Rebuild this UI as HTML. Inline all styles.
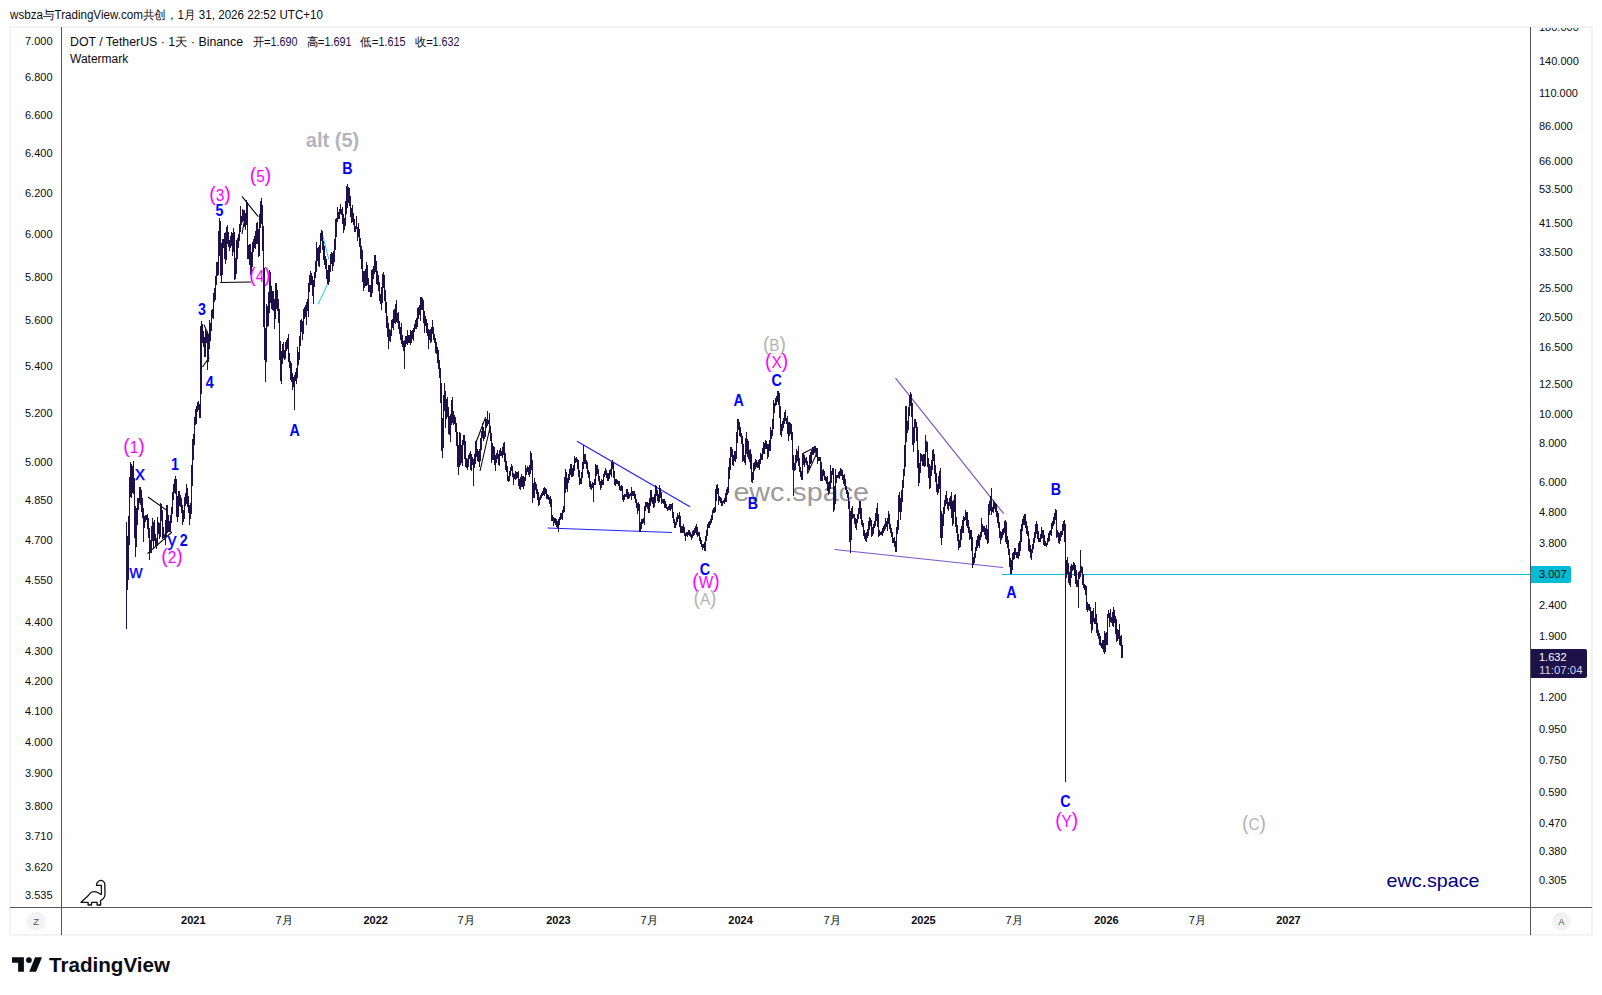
<!DOCTYPE html>
<html lang="zh"><head><meta charset="utf-8"><title>DOT / TetherUS</title>
<style>
html,body{margin:0;padding:0;background:#fff;}
body{width:1602px;height:995px;position:relative;overflow:hidden;font-family:"Liberation Sans", sans-serif;}
#frame{position:absolute;left:9px;top:26px;width:1580px;height:906px;border:2px solid #f3f3f3;border-radius:2px;box-sizing:content-box;background:#fefefe;}
svg{position:absolute;left:0;top:0;font-family:"Liberation Sans", sans-serif;}
</style></head><body>
<div id="frame"></div>
<svg width="1602" height="995" viewBox="0 0 1602 995">
<text x="10" y="19.3" font-size="12" fill="#0b0b12" text-anchor="start" font-weight="normal" textLength="313" lengthAdjust="spacingAndGlyphs">wsbza与TradingView.com共创，1月 31, 2026 22:52 UTC+10</text>
<defs><clipPath id="fc"><rect x="11" y="28" width="1580" height="906"/></clipPath></defs>
<g clip-path="url(#fc)">
<text x="52.5" y="44.9" font-size="11" fill="#0b0b12" text-anchor="end" font-weight="normal" >7.000</text>
<text x="52.5" y="80.9" font-size="11" fill="#0b0b12" text-anchor="end" font-weight="normal" >6.800</text>
<text x="52.5" y="118.9" font-size="11" fill="#0b0b12" text-anchor="end" font-weight="normal" >6.600</text>
<text x="52.5" y="156.9" font-size="11" fill="#0b0b12" text-anchor="end" font-weight="normal" >6.400</text>
<text x="52.5" y="196.9" font-size="11" fill="#0b0b12" text-anchor="end" font-weight="normal" >6.200</text>
<text x="52.5" y="237.9" font-size="11" fill="#0b0b12" text-anchor="end" font-weight="normal" >6.000</text>
<text x="52.5" y="280.9" font-size="11" fill="#0b0b12" text-anchor="end" font-weight="normal" >5.800</text>
<text x="52.5" y="323.9" font-size="11" fill="#0b0b12" text-anchor="end" font-weight="normal" >5.600</text>
<text x="52.5" y="369.9" font-size="11" fill="#0b0b12" text-anchor="end" font-weight="normal" >5.400</text>
<text x="52.5" y="416.9" font-size="11" fill="#0b0b12" text-anchor="end" font-weight="normal" >5.200</text>
<text x="52.5" y="465.9" font-size="11" fill="#0b0b12" text-anchor="end" font-weight="normal" >5.000</text>
<text x="52.5" y="503.9" font-size="11" fill="#0b0b12" text-anchor="end" font-weight="normal" >4.850</text>
<text x="52.5" y="543.9" font-size="11" fill="#0b0b12" text-anchor="end" font-weight="normal" >4.700</text>
<text x="52.5" y="583.9" font-size="11" fill="#0b0b12" text-anchor="end" font-weight="normal" >4.550</text>
<text x="52.5" y="625.9" font-size="11" fill="#0b0b12" text-anchor="end" font-weight="normal" >4.400</text>
<text x="52.5" y="654.9" font-size="11" fill="#0b0b12" text-anchor="end" font-weight="normal" >4.300</text>
<text x="52.5" y="684.9" font-size="11" fill="#0b0b12" text-anchor="end" font-weight="normal" >4.200</text>
<text x="52.5" y="714.9" font-size="11" fill="#0b0b12" text-anchor="end" font-weight="normal" >4.100</text>
<text x="52.5" y="745.9" font-size="11" fill="#0b0b12" text-anchor="end" font-weight="normal" >4.000</text>
<text x="52.5" y="776.9" font-size="11" fill="#0b0b12" text-anchor="end" font-weight="normal" >3.900</text>
<text x="52.5" y="809.9" font-size="11" fill="#0b0b12" text-anchor="end" font-weight="normal" >3.800</text>
<text x="52.5" y="839.9" font-size="11" fill="#0b0b12" text-anchor="end" font-weight="normal" >3.710</text>
<text x="52.5" y="870.9" font-size="11" fill="#0b0b12" text-anchor="end" font-weight="normal" >3.620</text>
<text x="52.5" y="899.2" font-size="11" fill="#0b0b12" text-anchor="end" font-weight="normal" >3.535</text>
<text x="1539" y="30.9" font-size="11" fill="#0b0b12" text-anchor="start" font-weight="normal" >180.000</text>
<text x="1539" y="64.9" font-size="11" fill="#0b0b12" text-anchor="start" font-weight="normal" >140.000</text>
<text x="1539" y="96.9" font-size="11" fill="#0b0b12" text-anchor="start" font-weight="normal" >110.000</text>
<text x="1539" y="129.9" font-size="11" fill="#0b0b12" text-anchor="start" font-weight="normal" >86.000</text>
<text x="1539" y="164.9" font-size="11" fill="#0b0b12" text-anchor="start" font-weight="normal" >66.000</text>
<text x="1539" y="192.9" font-size="11" fill="#0b0b12" text-anchor="start" font-weight="normal" >53.500</text>
<text x="1539" y="226.9" font-size="11" fill="#0b0b12" text-anchor="start" font-weight="normal" >41.500</text>
<text x="1539" y="255.9" font-size="11" fill="#0b0b12" text-anchor="start" font-weight="normal" >33.500</text>
<text x="1539" y="291.9" font-size="11" fill="#0b0b12" text-anchor="start" font-weight="normal" >25.500</text>
<text x="1539" y="320.9" font-size="11" fill="#0b0b12" text-anchor="start" font-weight="normal" >20.500</text>
<text x="1539" y="350.9" font-size="11" fill="#0b0b12" text-anchor="start" font-weight="normal" >16.500</text>
<text x="1539" y="387.9" font-size="11" fill="#0b0b12" text-anchor="start" font-weight="normal" >12.500</text>
<text x="1539" y="417.9" font-size="11" fill="#0b0b12" text-anchor="start" font-weight="normal" >10.000</text>
<text x="1539" y="446.9" font-size="11" fill="#0b0b12" text-anchor="start" font-weight="normal" >8.000</text>
<text x="1539" y="485.9" font-size="11" fill="#0b0b12" text-anchor="start" font-weight="normal" >6.000</text>
<text x="1539" y="515.9" font-size="11" fill="#0b0b12" text-anchor="start" font-weight="normal" >4.800</text>
<text x="1539" y="546.9" font-size="11" fill="#0b0b12" text-anchor="start" font-weight="normal" >3.800</text>
<text x="1539" y="608.9" font-size="11" fill="#0b0b12" text-anchor="start" font-weight="normal" >2.400</text>
<text x="1539" y="639.9" font-size="11" fill="#0b0b12" text-anchor="start" font-weight="normal" >1.900</text>
<text x="1539" y="700.9" font-size="11" fill="#0b0b12" text-anchor="start" font-weight="normal" >1.200</text>
<text x="1539" y="732.9" font-size="11" fill="#0b0b12" text-anchor="start" font-weight="normal" >0.950</text>
<text x="1539" y="763.9" font-size="11" fill="#0b0b12" text-anchor="start" font-weight="normal" >0.750</text>
<text x="1539" y="795.9" font-size="11" fill="#0b0b12" text-anchor="start" font-weight="normal" >0.590</text>
<text x="1539" y="826.9" font-size="11" fill="#0b0b12" text-anchor="start" font-weight="normal" >0.470</text>
<text x="1539" y="854.9" font-size="11" fill="#0b0b12" text-anchor="start" font-weight="normal" >0.380</text>
<text x="1539" y="883.9" font-size="11" fill="#0b0b12" text-anchor="start" font-weight="normal" >0.305</text>
</g>
<g stroke="#555" stroke-width="1" shape-rendering="crispEdges">
<line x1="61.5" y1="27" x2="61.5" y2="934.5"/>
<line x1="1530.5" y1="27" x2="1530.5" y2="934.5"/>
<line x1="10" y1="907.5" x2="1592" y2="907.5"/>
</g>
<text x="193.3" y="923.9" font-size="11" fill="#0b0b12" text-anchor="middle" font-weight="bold" >2021</text>
<text x="284" y="923.9" font-size="11" fill="#0b0b12" text-anchor="middle" font-weight="normal" >7月</text>
<text x="375.7" y="923.9" font-size="11" fill="#0b0b12" text-anchor="middle" font-weight="bold" >2022</text>
<text x="466.1" y="923.9" font-size="11" fill="#0b0b12" text-anchor="middle" font-weight="normal" >7月</text>
<text x="558.4" y="923.9" font-size="11" fill="#0b0b12" text-anchor="middle" font-weight="bold" >2023</text>
<text x="649" y="923.9" font-size="11" fill="#0b0b12" text-anchor="middle" font-weight="normal" >7月</text>
<text x="740.6" y="923.9" font-size="11" fill="#0b0b12" text-anchor="middle" font-weight="bold" >2024</text>
<text x="832" y="923.9" font-size="11" fill="#0b0b12" text-anchor="middle" font-weight="normal" >7月</text>
<text x="923.5" y="923.9" font-size="11" fill="#0b0b12" text-anchor="middle" font-weight="bold" >2025</text>
<text x="1014" y="923.9" font-size="11" fill="#0b0b12" text-anchor="middle" font-weight="normal" >7月</text>
<text x="1106.4" y="923.9" font-size="11" fill="#0b0b12" text-anchor="middle" font-weight="bold" >2026</text>
<text x="1197.2" y="923.9" font-size="11" fill="#0b0b12" text-anchor="middle" font-weight="normal" >7月</text>
<text x="1288.4" y="923.9" font-size="11" fill="#0b0b12" text-anchor="middle" font-weight="bold" >2027</text>
<text x="70" y="45.5" font-size="12" fill="#0b0b12" textLength="173" lengthAdjust="spacingAndGlyphs">DOT / TetherUS · 1天 · Binance</text>
<text x="252.6" y="45.5" font-size="12" fill="#0b0b12" textLength="18" lengthAdjust="spacingAndGlyphs">开=</text><text x="270.6" y="45.5" font-size="12" fill="#1c1149" textLength="27" lengthAdjust="spacingAndGlyphs">1.690</text>
<text x="306.5" y="45.5" font-size="12" fill="#0b0b12" textLength="18" lengthAdjust="spacingAndGlyphs">高=</text><text x="324.5" y="45.5" font-size="12" fill="#1c1149" textLength="27" lengthAdjust="spacingAndGlyphs">1.691</text>
<text x="360.4" y="45.5" font-size="12" fill="#0b0b12" textLength="18" lengthAdjust="spacingAndGlyphs">低=</text><text x="378.4" y="45.5" font-size="12" fill="#1c1149" textLength="27" lengthAdjust="spacingAndGlyphs">1.615</text>
<text x="415" y="45.5" font-size="12" fill="#0b0b12" textLength="18" lengthAdjust="spacingAndGlyphs">收=</text><text x="432.4" y="45.5" font-size="12" fill="#1c1149" textLength="27" lengthAdjust="spacingAndGlyphs">1.632</text>
<text x="70" y="62.8" font-size="12" fill="#0b0b12">Watermark</text>
<text x="733.4" y="501.4" font-size="26.5" fill="#9b9b9b" textLength="135.5" lengthAdjust="spacingAndGlyphs">ewc.space</text>
<g fill="none" stroke-width="1">
<path stroke="#2222ff" stroke-width="1.25" d="M577 441.2L690 506.7M547.5 528L672 532.5"/>
<path stroke="#7e57c2" stroke-width="1.2" d="M895.5 378.2L1003.7 513.7M834.5 549.5L1003 567.5"/>
<path stroke="#000" stroke-width="1.05" d="M242 196.3L258.3 216.7M220.2 282.6L251 282M148 497L167 510.5L168 520M147.5 553.7L172 532M476 442.5L485.7 417M480 471L490 427.5M802.5 453.7L815.5 447L816 455L807.5 473.7M204 324.8L209.3 337M202.5 367L209.3 357.4M226 232L221.5 252M245.7 213L242 234"/>
<path stroke="#26c6da" d="M321.2 229.2L328.7 259.2M318.2 304.2L328 283.2"/>
</g>
<line x1="1002" y1="574.5" x2="1530" y2="574.5" stroke="#00bcd4" stroke-width="1" shape-rendering="crispEdges"/>
<path d="M126.5 522V629M127.5 536V590M128.5 516V580M129.5 477V545M130.5 462V497M131.5 464V498M132.5 466V493M133.5 461V494M134.5 478V538M135.5 506V557M136.5 508V547M137.5 498V525M138.5 498V510M139.5 487V503M140.5 487V505M141.5 490V512M142.5 498V518M143.5 508V542M144.5 516V528M145.5 515V522M146.5 515V520M147.5 514V529M148.5 518V538M149.5 528V560M150.5 540V553M151.5 526V553M152.5 518V541M153.5 522V548M154.5 520V541M155.5 534V547M156.5 538V549M157.5 517V546M158.5 522V534M159.5 523V539M160.5 503V537M161.5 504V521M162.5 510V539M163.5 527V538M164.5 534V540M165.5 520V545M166.5 505V537M167.5 505V533M168.5 515V532M169.5 521V532M170.5 515V532M171.5 507V523M172.5 492V514M173.5 484V500M174.5 479V493M175.5 476V494M176.5 479V517M177.5 496V522M178.5 491V517M179.5 491V506M180.5 495V507M181.5 498V513M182.5 505V525M183.5 510V522M184.5 497V519M185.5 493V506M186.5 484V504M187.5 488V507M188.5 496V513M189.5 505V525M190.5 503V519M191.5 465V514M192.5 439V486M193.5 434V460M194.5 417V445M195.5 409V425M196.5 406V424M197.5 402V412M198.5 401V410M199.5 404V418M200.5 326V418M201.5 321V394M202.5 324V343M203.5 331V347M204.5 337V357M205.5 328V357M206.5 332V343M207.5 331V370M208.5 334V362M209.5 320V349M210.5 323V341M211.5 310V331M212.5 309V318M213.5 293V319M214.5 288V302M215.5 276V300M216.5 262V285M217.5 262V276M218.5 231V275M219.5 218V256M220.5 221V276M221.5 243V283M222.5 239V275M223.5 239V248M224.5 233V259M225.5 236V264M226.5 227V260M227.5 225V244M228.5 232V247M229.5 240V251M230.5 236V248M231.5 232V246M232.5 233V256M233.5 228V252M234.5 232V280M235.5 258V279M236.5 240V274M237.5 238V259M238.5 234V248M239.5 224V241M240.5 206V232M241.5 216V225M242.5 209V222M243.5 210V221M244.5 210V227M245.5 214V230M246.5 200V225M247.5 202V259M248.5 245V259M249.5 244V265M250.5 244V275M251.5 252V280M252.5 242V267M253.5 239V252M254.5 236V248M255.5 231V249M256.5 223V244M257.5 222V244M258.5 229V257M259.5 214V256M260.5 201V228M261.5 198V224M262.5 205V251M263.5 226V327M264.5 268V360M265.5 328V382M266.5 304V362M267.5 306V327M268.5 292V326M269.5 270V313M270.5 272V303M271.5 286V309M272.5 291V310M273.5 291V311M274.5 299V329M275.5 283V319M276.5 283V309M277.5 290V311M278.5 299V323M279.5 309V360M280.5 341V381M281.5 351V384M282.5 344V364M283.5 342V358M284.5 350V360M285.5 342V359M286.5 340V351M287.5 338V349M288.5 334V362M289.5 353V368M290.5 361V380M291.5 363V382M292.5 373V390M293.5 377V387M294.5 375V410M295.5 372V381M296.5 368V384M297.5 347V378M298.5 352V365M299.5 336V360M300.5 320V346M301.5 319V332M302.5 321V340M303.5 309V334M304.5 307V319M305.5 305V317M306.5 302V325M307.5 299V311M308.5 283V317M309.5 275V292M310.5 271V285M311.5 273V285M312.5 276V296M313.5 280V304M314.5 272V287M315.5 261V278M316.5 242V272M317.5 248V261M318.5 247V266M319.5 245V267M320.5 233V253M321.5 230V241M322.5 231V250M323.5 241V260M324.5 246V265M325.5 256V269M326.5 259V279M327.5 270V284M328.5 265V285M329.5 265V282M330.5 254V272M331.5 252V264M332.5 253V271M333.5 251V266M334.5 239V262M335.5 219V250M336.5 218V237M337.5 207V222M338.5 212V219M339.5 209V219M340.5 204V214M341.5 209V215M342.5 207V224M343.5 214V233M344.5 218V230M345.5 201V226M346.5 186V214M347.5 184V208M348.5 187V203M349.5 188V206M350.5 196V217M351.5 208V223M352.5 205V222M353.5 213V225M354.5 219V232M355.5 226V232M356.5 216V229M357.5 227V241M358.5 223V237M359.5 229V247M360.5 238V259M361.5 246V269M362.5 250V282M363.5 271V291M364.5 271V288M365.5 269V286M366.5 262V286M367.5 265V285M368.5 278V292M369.5 285V292M370.5 285V297M371.5 270V297M372.5 269V293M373.5 266V279M374.5 255V274M375.5 255V272M376.5 261V284M377.5 271V285M378.5 275V291M379.5 282V301M380.5 294V304M381.5 287V310M382.5 274V303M383.5 272V288M384.5 275V301M385.5 290V313M386.5 302V328M387.5 316V337M388.5 323V349M389.5 329V341M390.5 330V342M391.5 320V336M392.5 319V328M393.5 310V330M394.5 309V323M395.5 304V324M396.5 300V322M397.5 313V323M398.5 312V329M399.5 321V334M400.5 327V340M401.5 323V344M402.5 335V347M403.5 341V351M404.5 340V369M405.5 336V347M406.5 336V344M407.5 330V345M408.5 335V343M409.5 335V343M410.5 330V345M411.5 331V343M412.5 330V339M413.5 328V341M414.5 324V332M415.5 320V329M416.5 318V329M417.5 308V327M418.5 307V319M419.5 305V315M420.5 297V321M421.5 297V310M422.5 298V310M423.5 300V323M424.5 311V333M425.5 316V326M426.5 319V333M427.5 323V336M428.5 329V349M429.5 330V340M430.5 329V343M431.5 327V342M432.5 320V334M433.5 327V340M434.5 334V343M435.5 338V353M436.5 342V354M437.5 347V363M438.5 350V369M439.5 360V378M440.5 368V403M441.5 383V451M442.5 418V458M443.5 395V448M444.5 383V411M445.5 391V428M446.5 399V419M447.5 397V417M448.5 407V434M449.5 416V435M450.5 414V442M451.5 400V425M452.5 397V423M453.5 411V425M454.5 415V424M455.5 417V432M456.5 423V446M457.5 432V467M458.5 445V475M459.5 432V467M460.5 433V465M461.5 445V463M462.5 440V466M463.5 435V445M464.5 435V459M465.5 441V467M466.5 458V468M467.5 459V470M468.5 455V467M469.5 453V459M470.5 451V470M471.5 454V471M472.5 457V465M473.5 459V486M474.5 454V468M475.5 441V464M476.5 441V457M477.5 449V461M478.5 451V462M479.5 449V467M480.5 438V461M481.5 431V450M482.5 423V438M483.5 427V441M484.5 431V439M485.5 419V437M486.5 419V428M487.5 411V426M488.5 420V424M489.5 413V433M490.5 426V441M491.5 433V463M492.5 443V460M493.5 446V460M494.5 447V465M495.5 455V471M496.5 453V463M497.5 450V459M498.5 454V465M499.5 450V466M500.5 448V456M501.5 451V456M502.5 447V458M503.5 443V455M504.5 442V462M505.5 453V470M506.5 461V472M507.5 466V481M508.5 476V482M509.5 471V481M510.5 467V476M511.5 464V471M512.5 466V477M513.5 473V485M514.5 474V479M515.5 471V480M516.5 472V479M517.5 472V478M518.5 471V486M519.5 479V489M520.5 477V490M521.5 474V487M522.5 476V487M523.5 476V489M524.5 477V486M525.5 465V481M526.5 468V475M527.5 466V472M528.5 467V475M529.5 465V477M530.5 451V474M531.5 453V470M532.5 460V503M533.5 483V498M534.5 478V498M535.5 482V490M536.5 484V494M537.5 489V500M538.5 492V506M539.5 497V505M540.5 495V500M541.5 493V498M542.5 491V496M543.5 488V495M544.5 487V496M545.5 488V494M546.5 489V499M547.5 494V499M548.5 495V500M549.5 497V504M550.5 496V507M551.5 499V521M552.5 515V521M553.5 517V526M554.5 518V523M555.5 518V525M556.5 519V527M557.5 521V528M558.5 519V532M559.5 517V525M560.5 513V520M561.5 513V519M562.5 510V520M563.5 506V513M564.5 477V512M565.5 469V493M566.5 472V489M567.5 478V492M568.5 474V483M569.5 469V480M570.5 464V475M571.5 464V477M572.5 468V477M573.5 465V476M574.5 456V471M575.5 458V463M576.5 457V462M577.5 459V469M578.5 460V477M579.5 470V485M580.5 478V484M581.5 472V484M582.5 462V478M583.5 445V469M584.5 454V464M585.5 454V464M586.5 460V469M587.5 462V474M588.5 470V478M589.5 472V487M590.5 481V489M591.5 484V490M592.5 482V488M593.5 483V502M594.5 479V485M595.5 464V485M596.5 465V476M597.5 465V474M598.5 469V481M599.5 476V485M600.5 481V490M601.5 479V488M602.5 480V485M603.5 474V485M604.5 471V477M605.5 468V475M606.5 470V478M607.5 473V481M608.5 473V481M609.5 470V479M610.5 469V475M611.5 462V477M612.5 460V469M613.5 462V478M614.5 471V485M615.5 479V486M616.5 479V484M617.5 480V484M618.5 481V486M619.5 481V490M620.5 486V491M621.5 485V491M622.5 486V500M623.5 495V502M624.5 494V500M625.5 494V497M626.5 489V497M627.5 489V499M628.5 492V499M629.5 494V498M630.5 493V496M631.5 487V500M632.5 491V496M633.5 491V496M634.5 491V499M635.5 494V503M636.5 499V508M637.5 503V514M638.5 502V511M639.5 504V532M640.5 522V532M641.5 519V529M642.5 519V524M643.5 518V523M644.5 506V525M645.5 502V511M646.5 502V507M647.5 502V509M648.5 503V513M649.5 498V513M650.5 490V506M651.5 490V502M652.5 497V504M653.5 497V508M654.5 494V507M655.5 485V503M656.5 486V496M657.5 490V501M658.5 494V503M659.5 485V502M660.5 488V498M661.5 492V504M662.5 499V503M663.5 499V504M664.5 499V508M665.5 501V508M666.5 504V509M667.5 507V511M668.5 506V510M669.5 504V510M670.5 504V511M671.5 504V509M672.5 503V518M673.5 512V523M674.5 519V528M675.5 522V528M676.5 517V525M677.5 513V522M678.5 515V519M679.5 512V527M680.5 516V533M681.5 526V533M682.5 526V533M683.5 524V533M684.5 527V536M685.5 533V541M686.5 532V536M687.5 532V537M688.5 530V535M689.5 530V536M690.5 532V537M691.5 534V540M692.5 531V538M693.5 530V536M694.5 528V535M695.5 526V533M696.5 524V535M697.5 527V537M698.5 532V536M699.5 532V541M700.5 537V544M701.5 540V547M702.5 544V550M703.5 544V548M704.5 542V551M705.5 536V551M706.5 530V541M707.5 524V536M708.5 522V528M709.5 521V528M710.5 519V525M711.5 515V523M712.5 510V520M713.5 508V513M714.5 507V513M715.5 489V512M716.5 485V501M717.5 484V494M718.5 488V505M719.5 496V501M720.5 497V503M721.5 498V506M722.5 501V506M723.5 500V503M724.5 498V504M725.5 493V502M726.5 489V502M727.5 487V495M728.5 467V493M729.5 458V479M730.5 447V470M731.5 447V457M732.5 449V465M733.5 455V466M734.5 451V461M735.5 451V462M736.5 432V459M737.5 419V443M738.5 419V430M739.5 422V436M740.5 427V437M741.5 433V444M742.5 436V462M743.5 444V461M744.5 455V463M745.5 438V465M746.5 432V454M747.5 439V457M748.5 441V459M749.5 450V462M750.5 449V469M751.5 454V482M752.5 472V483M753.5 463V480M754.5 462V471M755.5 459V469M756.5 460V467M757.5 462V468M758.5 460V468M759.5 459V470M760.5 453V464M761.5 454V460M762.5 448V460M763.5 442V454M764.5 443V454M765.5 440V449M766.5 441V449M767.5 444V459M768.5 444V457M769.5 440V451M770.5 427V451M771.5 430V439M772.5 419V436M773.5 400V429M774.5 403V413M775.5 398V406M776.5 396V405M777.5 391V402M778.5 391V405M779.5 393V418M780.5 406V435M781.5 424V437M782.5 421V431M783.5 418V428M784.5 412V424M785.5 410V421M786.5 418V424M787.5 416V434M788.5 422V441M789.5 422V436M790.5 423V434M791.5 424V440M792.5 432V470M793.5 455V496M794.5 463V471M795.5 455V470M796.5 449V463M797.5 451V461M798.5 446V466M799.5 458V472M800.5 467V477M801.5 471V480M802.5 453V480M803.5 453V465M804.5 455V467M805.5 458V463M806.5 457V465M807.5 461V473M808.5 465V470M809.5 455V470M810.5 452V464M811.5 450V463M812.5 447V455M813.5 447V455M814.5 446V453M815.5 446V452M816.5 448V457M817.5 448V464M818.5 457V461M819.5 457V461M820.5 457V481M821.5 462V481M822.5 470V481M823.5 469V476M824.5 471V480M825.5 476V481M826.5 477V484M827.5 476V491M828.5 482V495M829.5 481V493M830.5 465V489M831.5 471V483M832.5 468V475M833.5 468V512M834.5 486V510M835.5 469V504M836.5 475V483M837.5 475V478M838.5 472V478M839.5 471V479M840.5 468V476M841.5 469V476M842.5 470V480M843.5 475V484M844.5 474V486M845.5 479V490M846.5 486V494M847.5 490V498M848.5 492V509M849.5 501V542M850.5 511V553M851.5 508V540M852.5 506V519M853.5 514V518M854.5 514V524M855.5 518V528M856.5 519V530M857.5 514V523M858.5 508V519M859.5 501V514M860.5 501V519M861.5 508V525M862.5 520V527M863.5 523V536M864.5 530V539M865.5 533V541M866.5 532V542M867.5 529V538M868.5 521V536M869.5 517V530M870.5 518V526M871.5 520V537M872.5 527V536M873.5 524V534M874.5 521V528M875.5 513V526M876.5 508V521M877.5 503V527M878.5 514V537M879.5 530V536M880.5 532V535M881.5 531V535M882.5 528V536M883.5 526V533M884.5 524V531M885.5 518V529M886.5 521V527M887.5 518V531M888.5 511V524M889.5 514V529M890.5 524V533M891.5 528V537M892.5 532V543M893.5 538V543M894.5 537V547M895.5 541V552M896.5 527V552M897.5 520V534M898.5 495V530M899.5 492V512M900.5 498V520M901.5 490V512M902.5 480V502M903.5 469V488M904.5 445V476M905.5 406V467M906.5 406V442M907.5 421V433M908.5 407V430M909.5 395V416M910.5 392V406M911.5 394V417M912.5 403V445M913.5 427V452M914.5 419V443M915.5 419V428M916.5 422V441M917.5 427V468M918.5 450V486M919.5 463V483M920.5 453V473M921.5 454V461M922.5 455V466M923.5 454V466M924.5 454V467M925.5 435V466M926.5 441V452M927.5 442V467M928.5 458V478M929.5 464V489M930.5 466V488M931.5 460V476M932.5 450V470M933.5 449V461M934.5 454V474M935.5 465V482M936.5 473V492M937.5 484V495M938.5 476V493M939.5 471V489M940.5 468V538M941.5 511V545M942.5 514V538M943.5 507V526M944.5 500V514M945.5 495V506M946.5 491V504M947.5 498V509M948.5 502V511M949.5 498V506M950.5 496V509M951.5 492V518M952.5 501V526M953.5 500V524M954.5 495V512M955.5 494V527M956.5 517V533M957.5 525V541M958.5 534V550M959.5 540V548M960.5 529V547M961.5 526V540M962.5 520V533M963.5 516V533M964.5 517V521M965.5 510V520M966.5 512V526M967.5 512V528M968.5 520V533M969.5 527V540M970.5 530V539M971.5 530V551M972.5 537V568M973.5 557V565M974.5 553V563M975.5 547V558M976.5 540V551M977.5 536V548M978.5 534V546M979.5 535V548M980.5 532V540M981.5 518V537M982.5 524V532M983.5 526V532M984.5 526V535M985.5 528V539M986.5 525V540M987.5 529V544M988.5 504V543M989.5 501V515M990.5 496V511M991.5 488V515M992.5 507V512M993.5 500V513M994.5 502V509M995.5 503V512M996.5 504V517M997.5 511V523M998.5 513V528M999.5 522V538M1000.5 531V544M1001.5 532V540M1002.5 529V538M1003.5 528V535M1004.5 521V533M1005.5 520V542M1006.5 522V544M1007.5 536V548M1008.5 540V555M1009.5 549V567M1010.5 558V574M1011.5 560V574M1012.5 553V570M1013.5 552V560M1014.5 548V559M1015.5 548V555M1016.5 552V558M1017.5 552V558M1018.5 543V559M1019.5 541V556M1020.5 529V551M1021.5 524V542M1022.5 519V531M1023.5 516V525M1024.5 514V525M1025.5 514V528M1026.5 521V534M1027.5 526V536M1028.5 531V551M1029.5 539V552M1030.5 545V558M1031.5 549V560M1032.5 544V553M1033.5 538V549M1034.5 532V543M1035.5 524V538M1036.5 521V534M1037.5 524V539M1038.5 531V542M1039.5 538V542M1040.5 534V542M1041.5 527V539M1042.5 530V538M1043.5 530V545M1044.5 535V546M1045.5 541V546M1046.5 543V547M1047.5 538V545M1048.5 533V542M1049.5 531V541M1050.5 530V535M1051.5 523V536M1052.5 521V529M1053.5 517V526M1054.5 513V524M1055.5 509V520M1056.5 510V538M1057.5 530V537M1058.5 532V543M1059.5 533V544M1060.5 531V541M1061.5 531V537M1062.5 524V535M1063.5 521V531M1064.5 520V542M1065.5 524V574M1066.5 560V578M1067.5 557V574M1068.5 563V583M1069.5 572V585M1070.5 566V587M1071.5 564V578M1072.5 565V571M1073.5 562V570M1074.5 563V576M1075.5 565V584M1076.5 570V587M1077.5 580V587M1078.5 572V608M1079.5 571V579M1080.5 550V577M1081.5 566V573M1082.5 567V585M1083.5 574V588M1084.5 584V590M1085.5 585V595M1086.5 586V610M1087.5 602V612M1088.5 604V610M1089.5 604V611M1090.5 607V624M1091.5 611V633M1092.5 611V630M1093.5 608V622M1094.5 618V624M1095.5 602V624M1096.5 614V633M1097.5 623V636M1098.5 630V639M1099.5 633V645M1100.5 636V646M1101.5 643V648M1102.5 640V649M1103.5 640V652M1104.5 631V654M1105.5 633V652M1106.5 632V645M1107.5 614V645M1108.5 610V618M1109.5 613V627M1110.5 609V622M1111.5 617V623M1112.5 612V626M1113.5 607V627M1114.5 610V623M1115.5 616V634M1116.5 619V642M1117.5 629V641M1118.5 630V639M1119.5 624V645M1120.5 636V646M1121.5 635V658M1122.5 645V658" stroke="#1c1149" stroke-width="1" fill="none" shape-rendering="crispEdges"/>
<line x1="1065.5" y1="525" x2="1065.5" y2="782" stroke="#1c1149" stroke-width="1" shape-rendering="crispEdges"/>
<text x="332.5" y="147.2" font-size="20" fill="#b2b5be" text-anchor="middle" font-weight="bold" >alt (5)</text>
<g transform="translate(347.5 168) scale(0.84 1)"><text x="0" y="6.1" font-size="17" font-weight="bold" text-anchor="middle" fill="#0000ff">B</text></g>
<g transform="translate(260.5 177) scale(0.96 1)"><text x="0" y="4.8" text-anchor="middle" fill="#ff00ff"><tspan font-size="20">(</tspan><tspan font-size="16">5</tspan><tspan font-size="20">)</tspan></text></g>
<g transform="translate(220 196) scale(0.96 1)"><text x="0" y="4.8" text-anchor="middle" fill="#ff00ff"><tspan font-size="20">(</tspan><tspan font-size="16">3</tspan><tspan font-size="20">)</tspan></text></g>
<g transform="translate(219.5 210) scale(0.84 1)"><text x="0" y="6.1" font-size="17" font-weight="bold" text-anchor="middle" fill="#0000ff">5</text></g>
<g transform="translate(260 277.5) scale(0.96 1)"><text x="0" y="4.8" text-anchor="middle" fill="#ff00ff"><tspan font-size="20">(</tspan><tspan font-size="16">4</tspan><tspan font-size="20">)</tspan></text></g>
<g transform="translate(202 308.5) scale(0.84 1)"><text x="0" y="6.1" font-size="17" font-weight="bold" text-anchor="middle" fill="#0000ff">3</text></g>
<g transform="translate(209.7 382) scale(0.84 1)"><text x="0" y="6.1" font-size="17" font-weight="bold" text-anchor="middle" fill="#0000ff">4</text></g>
<g transform="translate(294.7 430) scale(0.84 1)"><text x="0" y="6.1" font-size="17" font-weight="bold" text-anchor="middle" fill="#0000ff">A</text></g>
<g transform="translate(134 448) scale(0.96 1)"><text x="0" y="4.8" text-anchor="middle" fill="#ff00ff"><tspan font-size="20">(</tspan><tspan font-size="16">1</tspan><tspan font-size="20">)</tspan></text></g>
<text x="140" y="480.2" font-size="20" text-anchor="middle" fill="#0000ff" stroke="#0000ff" stroke-width="0.25">x</text>
<g transform="translate(175 464) scale(0.84 1)"><text x="0" y="6.1" font-size="17" font-weight="bold" text-anchor="middle" fill="#0000ff">1</text></g>
<g transform="translate(183.7 540) scale(0.84 1)"><text x="0" y="6.1" font-size="17" font-weight="bold" text-anchor="middle" fill="#0000ff">2</text></g>
<text x="172" y="545.9" font-size="18" text-anchor="middle" fill="#0000ff" stroke="#0000ff" stroke-width="0.25">y</text>
<g transform="translate(172 558) scale(0.96 1)"><text x="0" y="4.8" text-anchor="middle" fill="#ff00ff"><tspan font-size="20">(</tspan><tspan font-size="16">2</tspan><tspan font-size="20">)</tspan></text></g>
<text x="136" y="577.7" font-size="18" text-anchor="middle" fill="#0000ff" stroke="#0000ff" stroke-width="0.25">w</text>
<g transform="translate(774.4 346.3) scale(0.96 1)"><text x="0" y="4.8" text-anchor="middle" fill="#b4b4b4"><tspan font-size="20">(</tspan><tspan font-size="16">B</tspan><tspan font-size="20">)</tspan></text></g>
<g transform="translate(776.6 363.4) scale(0.96 1)"><text x="0" y="4.8" text-anchor="middle" fill="#ff00ff"><tspan font-size="20">(</tspan><tspan font-size="16">X</tspan><tspan font-size="20">)</tspan></text></g>
<g transform="translate(776.7 380) scale(0.84 1)"><text x="0" y="6.1" font-size="17" font-weight="bold" text-anchor="middle" fill="#0000ff">C</text></g>
<g transform="translate(738.7 400) scale(0.84 1)"><text x="0" y="6.1" font-size="17" font-weight="bold" text-anchor="middle" fill="#0000ff">A</text></g>
<g transform="translate(753 503) scale(0.84 1)"><text x="0" y="6.1" font-size="17" font-weight="bold" text-anchor="middle" fill="#0000ff">B</text></g>
<g transform="translate(705 569) scale(0.84 1)"><text x="0" y="6.1" font-size="17" font-weight="bold" text-anchor="middle" fill="#0000ff">C</text></g>
<g transform="translate(706 583) scale(0.96 1)"><text x="0" y="4.8" text-anchor="middle" fill="#ff00ff"><tspan font-size="20">(</tspan><tspan font-size="16">W</tspan><tspan font-size="20">)</tspan></text></g>
<g transform="translate(705 600) scale(0.96 1)"><text x="0" y="4.8" text-anchor="middle" fill="#b4b4b4"><tspan font-size="20">(</tspan><tspan font-size="16">A</tspan><tspan font-size="20">)</tspan></text></g>
<g transform="translate(1056 488.5) scale(0.84 1)"><text x="0" y="6.1" font-size="17" font-weight="bold" text-anchor="middle" fill="#0000ff">B</text></g>
<g transform="translate(1011.5 592) scale(0.84 1)"><text x="0" y="6.1" font-size="17" font-weight="bold" text-anchor="middle" fill="#0000ff">A</text></g>
<g transform="translate(1065.5 800.7) scale(0.84 1)"><text x="0" y="6.1" font-size="17" font-weight="bold" text-anchor="middle" fill="#0000ff">C</text></g>
<g transform="translate(1066.7 822.4) scale(0.96 1)"><text x="0" y="4.8" text-anchor="middle" fill="#ff00ff"><tspan font-size="20">(</tspan><tspan font-size="16">Y</tspan><tspan font-size="20">)</tspan></text></g>
<g transform="translate(1254 825.4) scale(0.96 1)"><text x="0" y="4.8" text-anchor="middle" fill="#b4b4b4"><tspan font-size="20">(</tspan><tspan font-size="16">C</tspan><tspan font-size="20">)</tspan></text></g>
<text x="1386.5" y="887" font-size="18.5" fill="#000080" textLength="93" lengthAdjust="spacingAndGlyphs">ewc.space</text>
<path d="M1531 566H1569a2 2 0 0 1 2 2V581a2 2 0 0 1-2 2H1531Z" fill="#00bcd4"/>
<text x="1539" y="578.2" font-size="11" fill="#0b0b12" text-anchor="start" font-weight="normal" >3.007</text>
<path d="M1531 649H1585a2 2 0 0 1 2 2V676a2 2 0 0 1-2 2H1531Z" fill="#1c1149"/>
<text x="1539" y="661.2" font-size="11" fill="#ffffff" text-anchor="start" font-weight="normal" >1.632</text>
<text x="1539" y="674.2" font-size="11" fill="#d6d3e6" text-anchor="start" font-weight="normal" textLength="43.5" lengthAdjust="spacingAndGlyphs">11:07:04</text>
<circle cx="36.2" cy="921.4" r="9.4" fill="#f2f2f2"/>
<text x="36.2" y="925.2" font-size="9.5" fill="#555" text-anchor="middle" font-weight="normal" >Z</text>
<circle cx="1561.5" cy="921.4" r="9.4" fill="#f2f2f2"/>
<text x="1561.5" y="925.0" font-size="9" fill="#555" text-anchor="middle" font-weight="normal" >A</text>
<path d="M81 902.35L87.3 896.5C89 894.6 90.1 893.3 90.1 893.3C91.6 892 93 891.7 93.7 891.7C95.4 891.7 96.8 892 97.7 892.5L100.5 894.3H101.4V885.3H96.5C96.6 884.2 96.7 883.6 97.1 882.9C97.6 882 98.2 881.4 98.9 881C99.6 880.6 100.2 880.4 100.9 880.4C102 880.4 102.8 880.8 103.4 881.4C104.3 882.2 104.8 883.2 104.8 884.1L105 894.5C104.9 895.6 104.6 896.6 104.2 897.3C103.8 898.1 103.2 898.8 102.6 899.3L100.5 900.7L100.7 905H97.1V902.35H91.7L91.5 905H88.1V902.35Z" fill="none" stroke="#111" stroke-width="1.3" stroke-linejoin="round"/>
<g fill="#0b0b12">
<path d="M12 957.2H23.9V971.8H18.1V962.7H12Z"/>
<circle cx="28.9" cy="960.1" r="2.9"/>
<path d="M35.1 957.2H42L36.1 971.8H29.2Z"/>
<text x="49" y="971.8" font-size="20" font-weight="bold" textLength="121" lengthAdjust="spacingAndGlyphs">TradingView</text>
</g>
</svg></body></html>
